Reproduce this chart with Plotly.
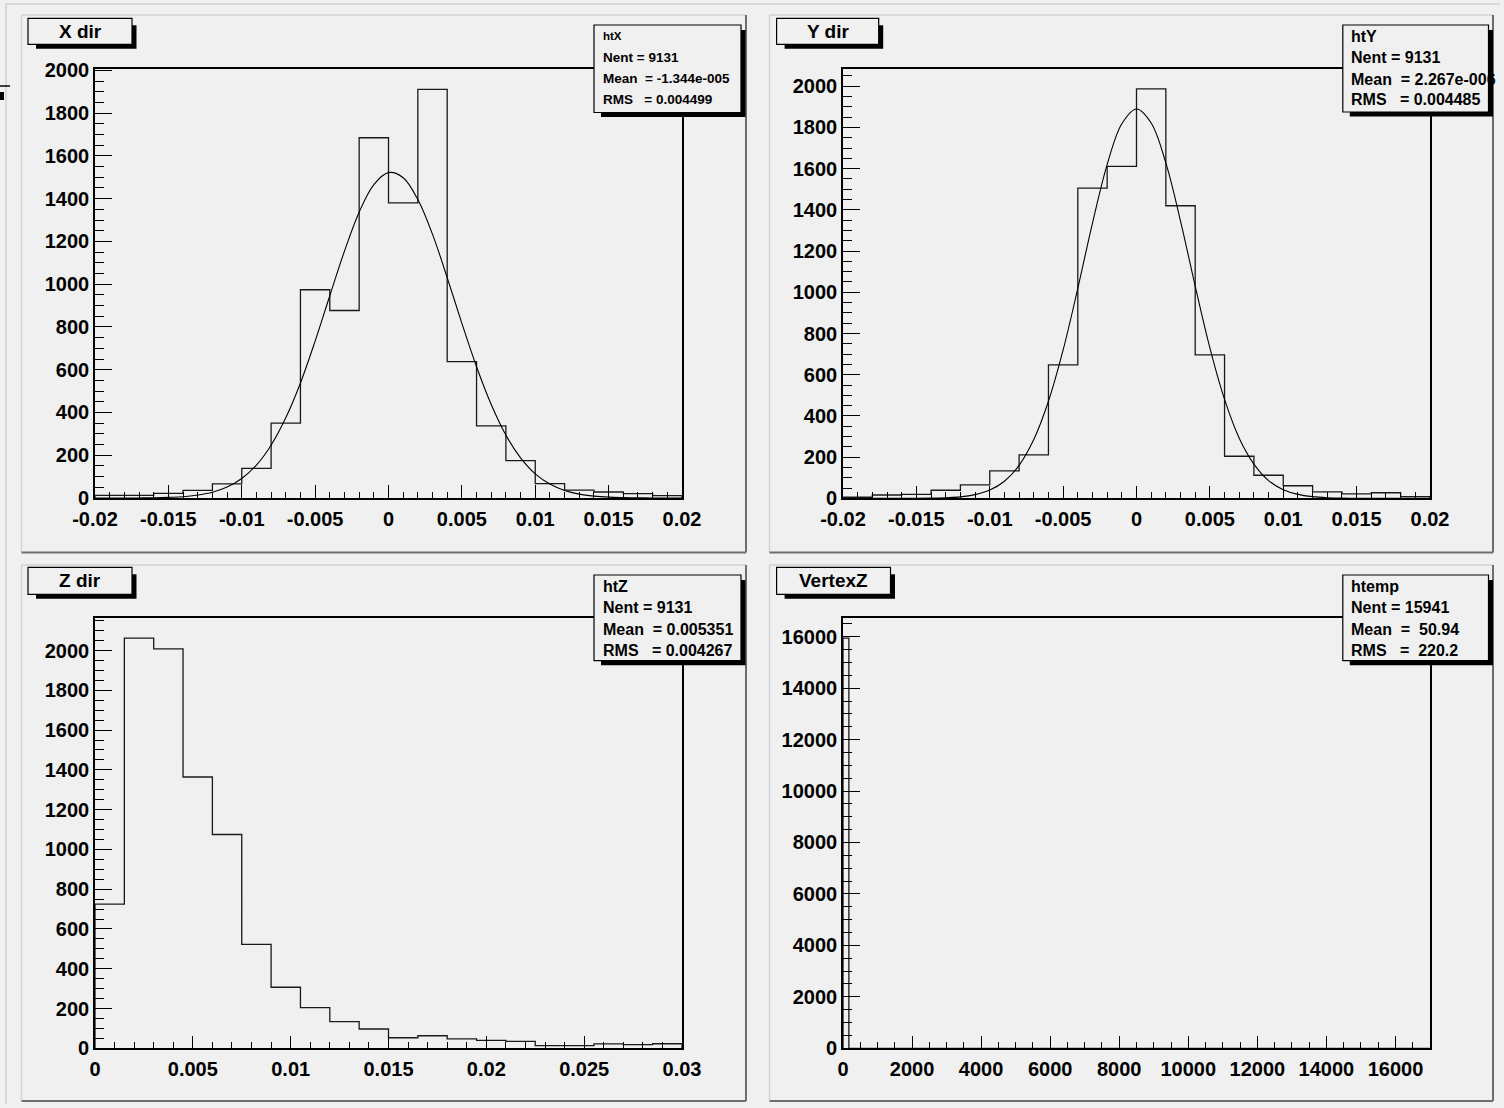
import numpy as np
import plotly.graph_objects as go

W, H = 1504, 1108

# ---------------- data ----------------
htX_range = [-0.02, 0.02]
htX_counts = [12, 12, 22, 36, 66, 139, 350, 974, 877, 1685,
              1380, 1911, 638, 337, 175, 67, 37, 28, 20, 11]

htY_range = [-0.02, 0.02]
htY_counts = [5, 16, 19, 39, 65, 133, 211, 648, 1506, 1611,
              1987, 1420, 696, 204, 112, 61, 31, 21, 27, 8]

htZ_range = [0.0, 0.03]
htZ_counts = [725, 2062, 2008, 1364, 1075, 523, 307, 205, 134, 97,
              53, 63, 47, 40, 35, 13, 13, 22, 18, 23]

vtx_range = [0, 17000]
vtx_counts = [15941] + [0] * 99

# gaussian fit curves, sampled every 0.001
fit_x = [-0.020, -0.019, -0.018, -0.017, -0.016, -0.015, -0.014, -0.013, -0.012, -0.011,
         -0.010, -0.009, -0.008, -0.007, -0.006, -0.005, -0.004, -0.003, -0.002, -0.001,
         0.000, 0.001, 0.002, 0.003, 0.004, 0.005, 0.006, 0.007, 0.008, 0.009,
         0.010, 0.011, 0.012, 0.013, 0.014, 0.015, 0.016, 0.017, 0.018, 0.019, 0.020]
fitX_y = [0, 0, 0, 0.3, 1, 3, 6, 14, 27, 51,
          91, 154, 247, 375, 538, 734, 946, 1155, 1337, 1466,
          1522, 1498, 1396, 1233, 1031, 817, 614, 437, 294, 188,
          113, 65, 35, 18, 9, 4, 2, 1, 0, 0, 0]
fitY_y = [0, 0, 0, 0, 0, 0.3, 1, 3, 7, 18,
          40, 83, 160, 285, 471, 720, 1019, 1336, 1620, 1818,
          1890, 1822, 1628, 1346, 1030, 730, 480, 292, 166, 86,
          42, 19, 8, 3, 1, 0.3, 0, 0, 0, 0, 0]

# tick labels
xy_tickvals = [-0.02, -0.015, -0.01, -0.005, 0, 0.005, 0.01, 0.015, 0.02]
xy_ticktext = ["-0.02", "-0.015", "-0.01", "-0.005", "0", "0.005", "0.01", "0.015", "0.02"]
z_tickvals = [0, 0.005, 0.01, 0.015, 0.02, 0.025, 0.03]
z_ticktext = ["0", "0.005", "0.01", "0.015", "0.02", "0.025", "0.03"]
cnt_tickvals = [0, 200, 400, 600, 800, 1000, 1200, 1400, 1600, 1800, 2000]
cnt_ticktext = [str(v) for v in cnt_tickvals]
vtx_tickvals = [0, 2000, 4000, 6000, 8000, 10000, 12000, 14000, 16000]
vtx_ticktext = [str(v) for v in vtx_tickvals]

titles = ["X dir", "Y dir", "Z dir", "VertexZ"]
stats = [
    ["htX", "Nent = 9131", "Mean  = -1.344e-005", "RMS   = 0.004499"],
    ["htY", "Nent = 9131", "Mean  = 2.267e-006", "RMS   = 0.004485"],
    ["htZ", "Nent = 9131", "Mean  = 0.005351", "RMS   = 0.004267"],
    ["htemp", "Nent = 15941", "Mean  =  50.94", "RMS   =  220.2"],
]

# ---------------- helpers ----------------
def px(x):
    return x / W


def py(y):
    return 1 - y / H


def step_xy(lo, hi, counts):
    edges = np.linspace(lo, hi, len(counts) + 1)
    xs, ys = [edges[0]], [0]
    for i, c in enumerate(counts):
        xs += [edges[i], edges[i + 1]]
        ys += [c, c]
    xs.append(edges[-1])
    ys.append(0)
    return xs, ys


def minor_vals(lo, hi, step):
    n = int(round((hi - lo) / step))
    return [lo + i * step for i in range(n + 1)]


FONT = "Liberation Sans, Arial, Helvetica, sans-serif"
BG = "#f0f0f0"

# ---------------- layout geometry (pixels) ----------------
pads = [  # x0, y0, x1, y1
    (21.5, 15, 746, 552.5),
    (769.5, 15, 1493, 552.5),
    (21.5, 565, 746, 1101),
    (769.5, 565, 1493, 1101),
]
frames = [  # left, right, top, bottom
    (95, 682, 69, 498),
    (843, 1430, 68.5, 498.3),
    (95, 682, 617.7, 1048.3),
    (843, 1430, 617.7, 1048.3),
]
title_boxes = [
    (28, 18.3, 132, 44.3),
    (776.6, 18.3, 878.7, 44.3),
    (28, 567.3, 132, 594.3),
    (776.6, 567.3, 890.5, 594.3),
]
stat_boxes = [
    (594, 25, 741, 112.5),
    (1342.8, 25, 1488.5, 112),
    (594, 575, 741, 660.7),
    (1342.8, 575, 1488.5, 660.7),
]
stat_sizes = [(11.5, 13.5), (16, 16), (16, 16), (16, 16)]
stat_line_y = [[36, 57.5, 78.5, 99.5], [36, 58, 79, 100],
               [586.5, 607.5, 629, 650], [586, 607.5, 629, 650]]

fig = go.Figure()

hists = [
    (htX_range, htX_counts),
    (htY_range, htY_counts),
    (htZ_range, htZ_counts),
    (vtx_range, vtx_counts),
]
xticks = [(xy_tickvals, xy_ticktext, 0.001), (xy_tickvals, xy_ticktext, 0.001),
          (z_tickvals, z_ticktext, 0.001), (vtx_tickvals, vtx_ticktext, 500)]
yticks = [(cnt_tickvals, cnt_ticktext, 50), (cnt_tickvals, cnt_ticktext, 50),
          (cnt_tickvals, cnt_ticktext, 50), (vtx_tickvals, vtx_ticktext, 500)]

for i in range(4):
    xa = "x" if i == 0 else f"x{i+1}"
    ya = "y" if i == 0 else f"y{i+1}"
    rng, cnts = hists[i]
    xs, ys = step_xy(rng[0], rng[1], cnts)
    fig.add_trace(go.Scatter(x=xs, y=ys, mode="lines", xaxis=xa, yaxis=ya,
                             line=dict(color="#1a1a1a", width=1.3),
                             hoverinfo="skip", showlegend=False))
    if i == 0:
        fig.add_trace(go.Scatter(x=fit_x, y=fitX_y, mode="lines", xaxis=xa, yaxis=ya,
                                 line=dict(color="#000", width=1.1, shape="spline"),
                                 hoverinfo="skip", showlegend=False))
    if i == 1:
        fig.add_trace(go.Scatter(x=fit_x, y=fitY_y, mode="lines", xaxis=xa, yaxis=ya,
                                 line=dict(color="#000", width=1.1, shape="spline"),
                                 hoverinfo="skip", showlegend=False))

    l, r, t, b = frames[i]
    ymax = 1.05 * max(cnts)
    tv, tt, mstep = xticks[i]
    ytv, ytt, ymstep = yticks[i]
    xkey = "xaxis" if i == 0 else f"xaxis{i+1}"
    ykey = "yaxis" if i == 0 else f"yaxis{i+1}"
    fig.layout[xkey] = dict(
        domain=[px(l), px(r)], anchor=ya, range=rng, automargin=False,
        showline=True, linecolor="#000", linewidth=1.6, mirror=True,
        showgrid=False, zeroline=False,
        ticks="inside", ticklen=13, tickwidth=1, tickcolor="#000",
        tickmode="array", tickvals=tv, ticktext=tt,
        minor=dict(ticks="inside", ticklen=6.5, tickwidth=1, tickcolor="#000",
                   tickmode="array", tickvals=minor_vals(rng[0], rng[1], mstep),
                   showgrid=False),
        tickfont=dict(family=FONT, size=20, color="#000", weight="bold"),
        ticklabelstandoff=2, fixedrange=True,
    )
    fig.layout[ykey] = dict(
        domain=[py(b), py(t)], anchor=xa, range=[0, ymax], automargin=False,
        showline=True, linecolor="#000", linewidth=1.6, mirror=True,
        showgrid=False, zeroline=False,
        ticks="inside", ticklen=17.5, tickwidth=1, tickcolor="#000",
        tickmode="array", tickvals=ytv, ticktext=ytt,
        minor=dict(ticks="inside", ticklen=8.8, tickwidth=1, tickcolor="#000",
                   tickmode="array", tickvals=minor_vals(0, ymax, ymstep),
                   showgrid=False),
        tickfont=dict(family=FONT, size=20, color="#000", weight="bold"),
        ticklabelstandoff=0, fixedrange=True,
    )

shapes = []


def line(x0, y0, x1, y1, color, width):
    shapes.append(dict(type="line", xref="paper", yref="paper",
                       x0=px(x0), y0=py(y0), x1=px(x1), y1=py(y1),
                       line=dict(color=color, width=width), layer="below"))


def rect(x0, y0, x1, y1, fill, lc=None, lw=0, layer="above"):
    shapes.append(dict(type="rect", xref="paper", yref="paper",
                       x0=px(x0), y0=py(y0), x1=px(x1), y1=py(y1),
                       fillcolor=fill,
                       line=dict(color=lc if lc else fill, width=lw),
                       layer=layer))


# canvas border
line(6, 4, 1500, 4, "#d0d0d0", 1.5)
line(6, 4, 6, 1104, "#d0d0d0", 1.5)
# stray mark at left edge
line(0, 86, 10, 86, "#000", 1.5)
rect(0, 92, 4, 100, "#000", layer="below")

# pads 3D borders
for (x0, y0, x1, y1) in pads:
    line(x0, y0, x1, y0, "#d2d2d2", 1.5)
    line(x0, y0, x0, y1, "#d2d2d2", 1.5)
    line(x0, y1, x1, y1, "#6e6e6e", 2)
    line(x1, y0, x1, y1, "#6e6e6e", 2)

annotations = []
for i in range(4):
    # title box with shadow
    x0, y0, x1, y1 = title_boxes[i]
    rect(x0 + 8, y0 + 7, x1 + 4.5, y1 + 4.5, "#000")
    rect(x0, y0, x1, y1, BG, "#000", 1.2)
    annotations.append(dict(xref="paper", yref="paper", x=px((x0 + x1) / 2),
                            y=py((y0 + y1) / 2), text=titles[i], showarrow=False,
                            xanchor="center", yanchor="middle",
                            font=dict(family=FONT, size=19, color="#000", weight="bold")))
    # stats box with shadow
    x0, y0, x1, y1 = stat_boxes[i]
    rect(x0 + 7, y0 + 5, x1 + 4.5, y1 + 4.5, "#000")
    rect(x0, y0, x1, y1, BG, "#000", 1.2)
    tsz, lsz = stat_sizes[i]
    for k, txt in enumerate(stats[i]):
        annotations.append(dict(xref="paper", yref="paper", x=px(x0 + 6.5),
                                y=py(stat_line_y[i][k]), text=txt, showarrow=False,
                                xanchor="left", yanchor="middle",
                                font=dict(family=FONT, size=tsz if k == 0 else lsz,
                                          color="#000", weight="bold")))

fig.update_layout(
    template="none",
    width=W, height=H, autosize=False,
    margin=dict(l=0, r=0, t=0, b=0, pad=0),
    paper_bgcolor=BG, plot_bgcolor=BG,
    showlegend=False, shapes=shapes, annotations=annotations,
)

fig.write_html("out.html", config={"displayModeBar": False},
               post_script="document.body.style.margin='0px';document.body.style.overflow='hidden';")
